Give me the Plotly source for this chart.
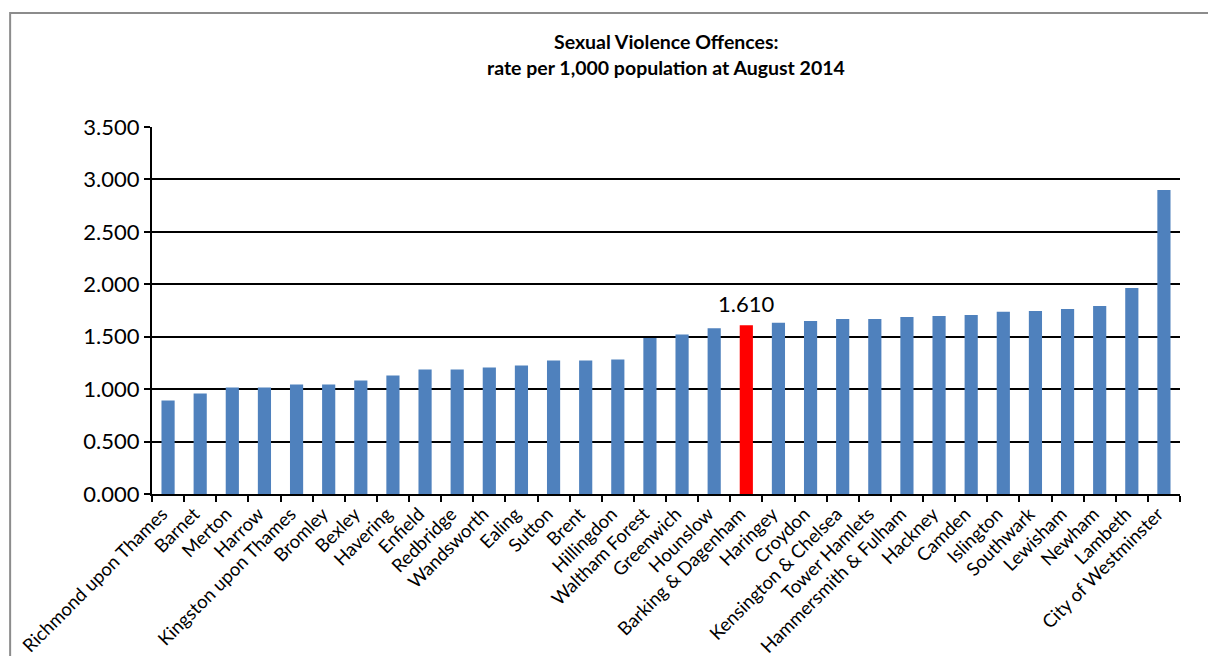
import plotly.graph_objects as go

boroughs = ["Richmond upon Thames", "Barnet", "Merton", "Harrow", "Kingston upon Thames",
            "Bromley", "Bexley", "Havering", "Enfield", "Redbridge", "Wandsworth", "Ealing",
            "Sutton", "Brent", "Hillingdon", "Waltham Forest", "Greenwich", "Hounslow",
            "Barking & Dagenham", "Haringey", "Croydon", "Kensington & Chelsea",
            "Tower Hamlets", "Hammersmith & Fulham", "Hackney", "Camden", "Islington",
            "Southwark", "Lewisham", "Newham", "Lambeth", "City of Westminster"]
rates = [0.892, 0.959, 1.016, 1.016, 1.045, 1.045, 1.083, 1.131, 1.188, 1.188, 1.207, 1.226,
         1.274, 1.274, 1.283, 1.487, 1.522, 1.580, 1.610, 1.633, 1.651, 1.670, 1.670, 1.689,
         1.698, 1.708, 1.737, 1.746, 1.765, 1.794, 1.965, 2.898]
highlight = "Barking & Dagenham"
y_ticks = [0, 0.5, 1.0, 1.5, 2.0, 2.5, 3.0, 3.5]

BLUE = "#4F81BD"
RED = "#FF0000"
FONT = "Lato"

colors = [RED if b == highlight else BLUE for b in boroughs]

fig = go.Figure(go.Bar(x=boroughs, y=rates, marker=dict(color=colors, line=dict(width=0)),
                       width=0.41, hoverinfo="x+y"))

hi_idx = boroughs.index(highlight)
fig.add_annotation(x=boroughs[hi_idx], y=rates[hi_idx], text=f"{rates[hi_idx]:.3f}",
                   showarrow=False, yanchor="bottom", yshift=6,
                   font=dict(family=FONT, size=22, color="black"))

fig.add_annotation(x=0.5, y=1.2343, xref="paper", yref="paper", text="<b>Sexual Violence Offences:</b>",
                   showarrow=False, yanchor="middle", font=dict(family=FONT, size=19.5, color="black"))
fig.add_annotation(x=0.5, y=1.1608, xref="paper", yref="paper",
                   text="<b>rate per 1,000 population at August 2014</b>",
                   showarrow=False, yanchor="middle", font=dict(family=FONT, size=19.5, color="black"))

# outer chart border
fig.add_shape(type="rect", xref="paper", yref="paper", x0=-0.138, x1=1.2, y0=-1.0, y1=1.3106,
              line=dict(color="#8C8C8C", width=2), fillcolor="rgba(0,0,0,0)", layer="below")

fig.update_layout(
    width=1208, height=656,
    margin=dict(l=152, r=28, t=127, b=162, autoexpand=False),
    paper_bgcolor="white", plot_bgcolor="white",
    showlegend=False,
    font=dict(family=FONT, color="black"),
)
fig.update_xaxes(
    tickangle=-45, tickfont=dict(family=FONT, size=18.5, color="black"),
    showline=True, linecolor="black", linewidth=2,
    ticks="outside", tickson="boundaries", ticklen=6, tickwidth=2, tickcolor="black",
    ticklabelshift=-6,
    showgrid=False, automargin=False,
)
fig.update_yaxes(
    range=[0, 3.5], tickvals=y_ticks, tickformat=".3f",
    tickfont=dict(family=FONT, size=22, color="black"),
    showline=True, linecolor="black", linewidth=2,
    ticks="outside", ticklen=6, tickwidth=2, tickcolor="black", ticklabelstandoff=0,
    showgrid=True, gridcolor="black", gridwidth=2, zeroline=False, automargin=False,
)

fig.write_html("out.html", config={"displayModeBar": False},
               post_script="document.body.style.margin='0';document.body.style.overflow='hidden';")
